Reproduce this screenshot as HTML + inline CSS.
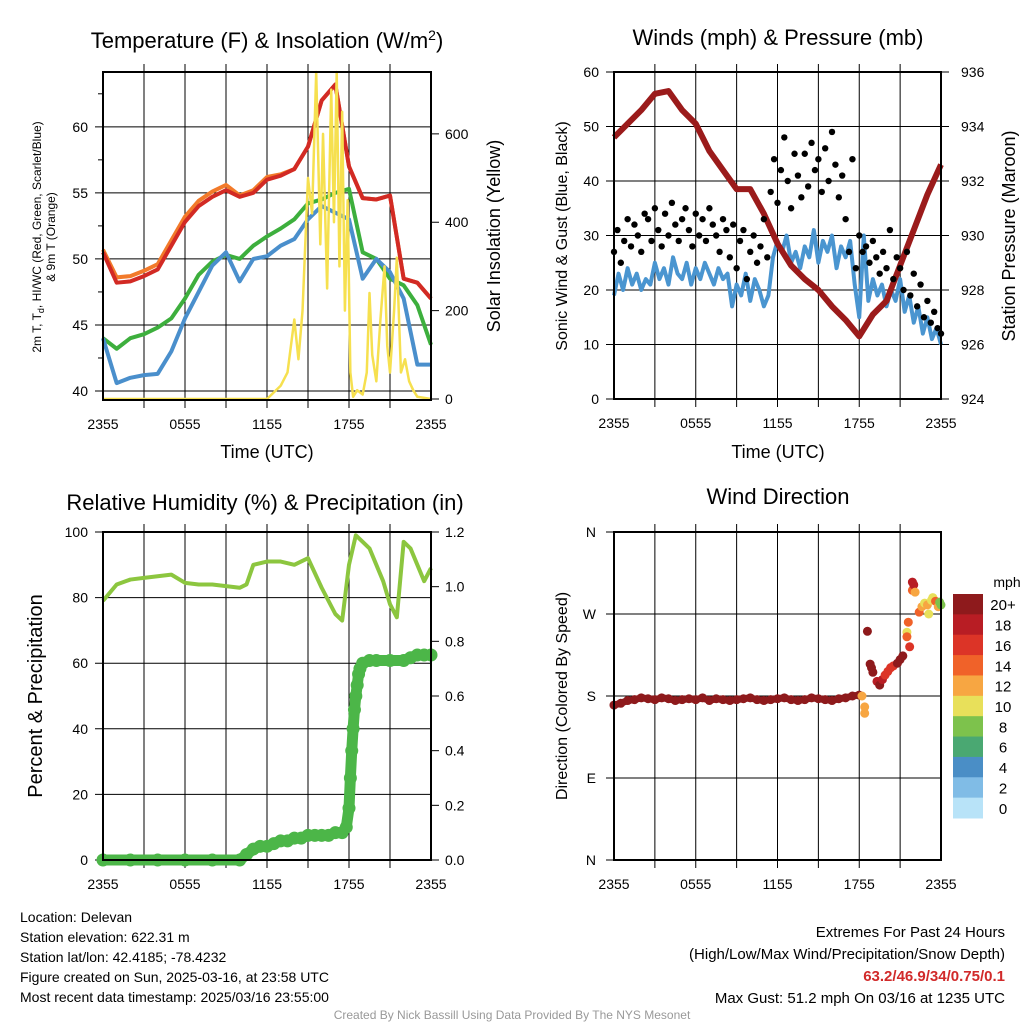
<!DOCTYPE html>
<html><head><meta charset="utf-8"><style>
body{margin:0;background:#fff}
svg{display:block;font-family:"Liberation Sans",sans-serif}
</style></head><body>
<svg id="s" width="1024" height="1024" viewBox="0 0 1024 1024"></svg>
<script>
// ---------- DATA ----------
const hours = [0,1,2,3,4,5,6,7,8,9,10,11,12,13,14,15,16,17,18,19,20,21,22,23,24];
const tempRed = [50.5,48.2,48.3,48.7,49.2,51,52.8,54,54.7,55.2,54.7,55,56,56.3,56.8,58.5,62,63.2,57,54.6,54.5,54.8,48.5,48.2,47];
const tempOrange = [50.7,48.6,48.7,49.1,49.6,51.4,53.2,54.4,55.1,55.6,54.8,55.2,56.2,56.4,56.8,58.5,62,63.2,57,54.6,54.5,54.8,48.5,48.2,47];
const heatGreen = [44,43.2,44,44.3,44.8,45.5,47,48.8,49.8,50.3,50,51,51.7,52.3,53,54.2,54.5,55,55.3,50.5,50,48.5,48,46.5,43.5];
const dewBlue = [44,40.6,41,41.2,41.3,43,45.5,47.5,49.5,50.5,48.3,50,50.2,51,51.5,53,54,53.5,53,48.5,50,49,47,42,42];
const solarT = [0,12,12.5,13,13.5,14,14.3,14.6,15,15.3,15.6,15.9,16.1,16.4,16.7,16.9,17.1,17.3,17.5,17.7,17.9,18.1,18.3,18.6,19,19.3,19.5,19.7,20,20.3,20.6,20.8,21,21.3,21.5,21.8,22.1,22.4,22.7,23,24];
const solarV = [0,0,15,30,60,180,90,200,500,420,740,350,600,250,700,400,740,300,650,200,450,60,5,20,10,60,240,100,40,180,300,120,60,200,320,60,90,40,20,5,0];
const pressure = [933.6,934.1,934.6,935.2,935.3,934.6,934.1,933.1,932.4,931.7,931.7,930.8,929.7,928.9,928.4,928,927.4,926.9,926.3,927.1,927.6,928.9,930.2,931.5,932.6];
const windSpeed = [19,23,20,24,21,23,20,22,21,25,22,24,21,26,23,22,25,21,24,22,25,23,21,24,22,23,17,21,19,23,18,22,20,17,19,26,29,27,30,25,27,24,28,26,31,25,29,27,30,24,28,26,29,21,15,30,18,22,19,21,17,20,18,22,16,19,14,17,12,15,11,13,10];
const gusts = [27,31,25,29,33,28,32,30,27,34,33,29,35,31,28,34,30,36,32,29,33,35,31,28,34,30,33,29,35,32,30,27,33,31,26,32,24,29,31,22,27,30,25,28,33,26,38,44,36,42,48,40,35,45,41,37,45,39,47,42,44,38,46,40,49,43,37,41,33,27,44,24,30,27,28,25,29,26,23,27,24,31,22,26,24,20,27,19,23,17,21,15,18,14,16,13,12];
const rhT = [0,1,2,3,4,5,6,7,8,9,10,10.5,11,12,13,14,15,16,17,17.5,18,18.5,19,19.5,20,20.5,21,21.5,22,22.5,23,23.5,24];
const rhV = [79,84,85.5,86,86.5,87,84.5,84,84,83.5,83,84,90,91,91,90,92,83,75,73,90,99,97,95,90,85,78,74,97,95,90,85,89];
const precipT = [0,2,4,6,8,10,10.5,11,11.5,12,12.5,13,13.5,14,14.5,15,15.5,16,16.5,17,17.5,17.8,18,18.1,18.2,18.3,18.4,18.5,18.6,18.7,18.8,19,19.5,20,21,22,22.5,23,23.5,24];
const precipV = [0,0,0,0,0,0,0.02,0.04,0.05,0.05,0.06,0.07,0.07,0.08,0.08,0.09,0.09,0.09,0.09,0.1,0.1,0.12,0.19,0.3,0.4,0.48,0.55,0.6,0.64,0.68,0.7,0.72,0.73,0.73,0.73,0.73,0.74,0.75,0.75,0.75];
const dirEarly = [170,172,175,176,178,177,176,178,177,175,176,177,176,178,175,177,176,175,176,177,178,176,175,176,177,178,176,175,176,178,177,176,175,177,178,180,181];
const dirLateT = [18.2,18.4,18.4,18.6,18.8,18.9,19.0,19.3,19.5,19.7,19.9,20.1,20.3,20.5,20.8,21.0,21.2,21.5,21.5,21.6,21.7,21.9,21.9,22.0,22.1,22.4,22.6,22.8,23.0,23.1,23.3,23.4,23.6,23.8,23.9,24.0];
const dirLateV = [180,168,161,251,215,211,206,196,192,198,203,207,211,213,216,220,224,250,245,261,234,296,305,302,294,272,278,282,280,270,285,288,284,278,283,280];
const dirLateS = [13,12,12,21,21,21,20,18,20,18,17,17,16,16,20,21,20,11,14,14,16,14,19,18,13,14,12,11,12,10,11,10,15,12,8,8];
const timeTicks = ["2355","0555","1155","1755","2355"];
const tempTicks = [40,45,50,55,60];
const solarTicks = [0,200,400,600];
const windTicks = [0,10,20,30,40,50,60];
const presTicks = [924,926,928,930,932,934,936];
const rhTicks = [0,20,40,60,80,100];
const prTicks = [0,0.2,0.4,0.6,0.8,1.0,1.2];
const dirTicks = ["N","E","S","W","N"];
const cbLabels = ["20+","18","16","14","12","10","8","6","4","2","0"];
const cbColors = ["#8e1a1c","#b81d24","#dc3427","#f06229","#f7a642","#e8e05a","#7dc24c","#4aa872","#4a8ec6","#80bce6","#b8e3f8"];

// ---------- HELPERS ----------
const S = document.getElementById('s'), NS = 'http://www.w3.org/2000/svg';
function el(tag, at, parent){const e=document.createElementNS(NS,tag);for(const k in at)e.setAttribute(k,at[k]);(parent||S).appendChild(e);return e;}
function txt(x,y,t,size,anchor,rot,extra){const e=el('text',Object.assign({x:x,y:y,'font-size':size,'text-anchor':anchor||'middle',fill:'#000'},extra||{}));if(rot)e.setAttribute('transform','rotate(-90 '+x+' '+y+')');e.textContent=t;return e;}
function lin(d0,d1,r0,r1){return v=>r0+(v-d0)*(r1-r0)/(d1-d0);}
function speedColor(s){const i=Math.min(10,Math.floor(s/2));return cbColors[10-i];}

function frame(L,T,R,B,name){
  const g=el('g',{});
  
  
  const X=lin(0,24,L,R);
  for(let h=3;h<24;h+=3){el('line',{x1:X(h),y1:T-8,x2:X(h),y2:B+8,stroke:'#000','stroke-width':1},g);}
  return {g,X};
}
function timeAxis(X,B,name){
  timeTicks.forEach((t,i)=>{const e=txt(X(i*6),B+29,t,14);});
}

// ===== PANEL 1 =====
(function(){
  const L=103,T=72,R=431,B=400;
  const {X}=frame(L,T,R,B,'temp');
  const Y=lin(40,64.15,391,72), Ys=lin(0,740,399,72);
  tempTicks.forEach(v=>{el('line',{x1:L-8,y1:Y(v),x2:R,y2:Y(v),stroke:'#000','stroke-width':1});const e=txt(L-15,Y(v)+5,v,14,'end');});
  [42.5,47.5,52.5,57.5,62.5].forEach(v=>el('line',{x1:L-5,y1:Y(v),x2:L,y2:Y(v),stroke:'#000'}));
  solarTicks.forEach(v=>{el('line',{x1:R,y1:Ys(v),x2:R+8,y2:Ys(v),stroke:'#000'});const e=txt(R+14,Ys(v)+5,v,14,'start');});
  const series=[[solarT,solarV,'#f6e04f',2.5,Ys,'solar-line'],[hours,tempOrange,'#f27a2a',4,Y,'orange-9m-temp-line'],[hours,tempRed,'#d22a24',4,Y,'red-temp-line'],[hours,heatGreen,'#3daf3d',4,Y,'green-line'],[hours,dewBlue,'#4a8fcc',4,Y,'blue-dewpoint-line']];
  const order=[1,2,3,4,0];
  order.forEach(i=>{const [t,v,c,w,YY,n]=series[i];const p=el('polyline',{points:t.map((h,k)=>X(h)+','+YY(v[k])).join(' '),fill:'none',stroke:c,'stroke-width':w,'stroke-linejoin':'round'});});
  el('rect',{x:L,y:T,width:R-L,height:B-T,fill:'none',stroke:'#000','stroke-width':2});
  timeAxis(X,B,'temp');
  let e=txt(267,48,'',22);e.innerHTML='Temperature (F) &amp; Insolation (W/m<tspan dy="-8" font-size="14">2</tspan><tspan dy="8">)</tspan>';
  e=txt(267,458,'Time (UTC)',18);
  e=txt(41,237,'',12,'middle',true);e.innerHTML='2m T, T<tspan dy="3" font-size="9">d</tspan><tspan dy="-3">, HI/WC (Red, Green, Scarlet/Blue)</tspan>';
  e=txt(55,237,'& 9m T (Orange)',12,'middle',true);
  e=txt(500,236,'Solar Insolation (Yellow)',18,'middle',true);
})();

// ===== PANEL 2 =====
(function(){
  const L=614,T=72,R=941,B=399;
  const {X}=frame(L,T,R,B,'wind');
  const Y=lin(0,60,B,T), Yp=lin(924,936,B,T);
  windTicks.forEach(v=>{el('line',{x1:L-8,y1:Y(v),x2:R,y2:Y(v),stroke:'#000'});const e=txt(L-15,Y(v)+5,v,14,'end');});
  presTicks.forEach(v=>{el('line',{x1:R,y1:Yp(v),x2:R+8,y2:Yp(v),stroke:'#000'});const e=txt(R+20,Yp(v)+5,v,14,'start');});
  let p=el('polyline',{points:windSpeed.map((v,k)=>X(k*24/(windSpeed.length-1))+','+Y(v)).join(' '),fill:'none',stroke:'#4a95d0','stroke-width':4,'stroke-linejoin':'round'});
  
  p=el('polyline',{points:hours.map((h,k)=>X(h)+','+Yp(pressure[k])).join(' '),fill:'none',stroke:'#9b1b1b','stroke-width':6,'stroke-linejoin':'round'});
  
  gusts.forEach((g,i)=>{const c=el('circle',{cx:X(i*24/(gusts.length-1)),cy:Y(g),r:3.2,fill:'#000'});});
  el('rect',{x:L,y:T,width:R-L,height:B-T,fill:'none',stroke:'#000','stroke-width':2});
  timeAxis(X,B,'wind');
  let e=txt(778,45,'Winds (mph) & Pressure (mb)',22);
  e=txt(778,458,'Time (UTC)',18);
  e=txt(567,236,'Sonic Wind & Gust (Blue, Black)',16,'middle',true);
  e=txt(1015,236,'Station Pressure (Maroon)',18,'middle',true);
})();

// ===== PANEL 3 =====
(function(){
  const L=103,T=532,R=431,B=860;
  const {X}=frame(L,T,R,B,'rh');
  const Y=lin(0,100,B,T), Yp=lin(0,1.2,B,T);
  rhTicks.forEach(v=>{el('line',{x1:L-8,y1:Y(v),x2:R,y2:Y(v),stroke:'#000'});const e=txt(L-15,Y(v)+5,v,14,'end');});
  prTicks.forEach(v=>{el('line',{x1:R,y1:Yp(v),x2:R+8,y2:Yp(v),stroke:'#000'});const e=txt(R+14,Yp(v)+5,v.toFixed(1),14,'start');});
  let p=el('polyline',{points:rhT.map((h,k)=>X(h)+','+Y(rhV[k])).join(' '),fill:'none',stroke:'#8cc63f','stroke-width':4,'stroke-linejoin':'round'});
  
  p=el('polyline',{points:precipT.map((h,k)=>X(h)+','+Yp(precipV[k])).join(' '),fill:'none',stroke:'#4cb648','stroke-width':11,'stroke-linejoin':'round','stroke-linecap':'round'});
  
  precipT.forEach((h,k)=>{const c=el('circle',{cx:X(h),cy:Yp(precipV[k]),r:6.5,fill:'#4cb648'});});
  el('rect',{x:L,y:T,width:R-L,height:B-T,fill:'none',stroke:'#000','stroke-width':2});
  timeAxis(X,B,'rh');
  let e=txt(265,510,'Relative Humidity (%) & Precipitation (in)',22);
  e=txt(42,696,'Percent & Precipitation',20,'middle',true);
})();

// ===== PANEL 4 =====
(function(){
  const L=614,T=532,R=941,B=860;
  const {X}=frame(L,T,R,B,'dir');
  const Y=lin(0,360,B,T);
  dirTicks.forEach((t,i)=>{el('line',{x1:L-8,y1:Y(i*90),x2:R,y2:Y(i*90),stroke:'#000'});const e=txt(L-18,Y(i*90)+5,t,14,'end');});
  dirEarly.forEach((d,i)=>{const c=el('circle',{cx:X(i*0.5),cy:Y(d),r:4.5,fill:'#8e1a1c'});});
  for(let i=0;i<dirEarly.length-1;i++){el('line',{x1:X(i*0.5),y1:Y(dirEarly[i]),x2:X(i*0.5+0.5),y2:Y(dirEarly[i+1]),stroke:'#8e1a1c','stroke-width':7});}
  dirLateT.forEach((h,i)=>{const c=el('circle',{cx:X(h),cy:Y(dirLateV[i]),r:4.5,fill:speedColor(dirLateS[i])});});
  el('rect',{x:L,y:T,width:R-L,height:B-T,fill:'none',stroke:'#000','stroke-width':2});
  timeAxis(X,B,'dir');
  let e=txt(778,504,'Wind Direction',22);
  e=txt(567,696,'Direction (Colored By Speed)',16,'middle',true);
  const cb=el('g',{});
  
  const h=224/11;
  cbColors.forEach((c,i)=>{el('rect',{x:953,y:594+i*h,width:30,height:h+0.5,fill:c},cb);const t=txt(1003,594+i*h+h/2+6,cbLabels[i],15,'middle',false);});
  e=txt(1007,587,'mph',14);
})();

// ===== FOOTER =====
const foot=["Location: Delevan","Station elevation: 622.31 m","Station lat/lon: 42.4185; -78.4232","Figure created on Sun, 2025-03-16, at 23:58 UTC","Most recent data timestamp: 2025/03/16 23:55:00"];
foot.forEach((t,i)=>{const e=txt(20,922+i*20,t,14,'start');});
let e=txt(1005,937,'Extremes For Past 24 Hours',15,'end');
e=txt(1005,959,'(High/Low/Max Wind/Precipitation/Snow Depth)',15,'end');
e=txt(1005,981,'63.2/46.9/34/0.75/0.1',15,'end',false,{fill:'#d12a2a','font-weight':'bold'});
e=txt(1005,1003,'Max Gust: 51.2 mph On 03/16 at 1235 UTC',15,'end');
e=txt(512,1019,'Created By Nick Bassill Using Data Provided By The NYS Mesonet',12,'middle',false,{fill:'#999'});
</script>
</body></html>
